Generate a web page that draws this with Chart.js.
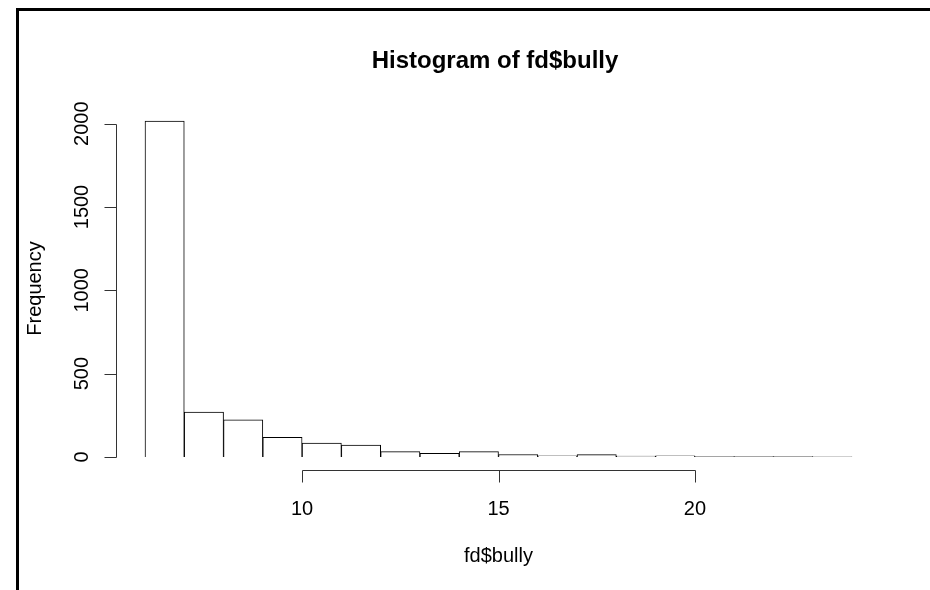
<!DOCTYPE html>
<html>
<head>
<meta charset="utf-8">
<script src="https://cdn.jsdelivr.net/npm/chart.js@4/dist/chart.umd.min.js"></script>
<style>
  body { margin: 0; background: #fff; }
  #box { position: relative; width: 930px; height: 590px; }
  #moldura { position: absolute; left: 16px; top: 8px; right: 0; bottom: 0; border-left: 3px solid #000; border-top: 3px solid #000; pointer-events: none; }
</style>
</head>
<body>
<div id="box">
  <canvas id="grafico"></canvas>
  <div id="moldura"></div>
</div>
<script>
// dados do histograma (limites das classes e contagens)
var breaks = [6, 7, 8, 9, 10, 11, 12, 13, 14, 15, 16, 17, 18, 19, 20, 21, 22, 23, 24];
var counts = [2015, 269, 223, 118, 84, 72, 32, 22, 32, 15, 7, 14, 6, 7, 3, 2, 2, 1];
var xTicks = [10, 15, 20];
var yTicks = [0, 500, 1000, 1500, 2000];
var titulo = 'Histogram of fd$bully';
var xLabel = 'fd$bully';
var yLabel = 'Frequency';

var pontos = [];
for (var i = 0; i < counts.length; i++) {
    pontos.push({ x: (breaks[i] + breaks[i + 1]) / 2, y: counts[i] });
}

var fonte = '"Liberation Sans", Arial, Helvetica, sans-serif';

// desenha eixos no estilo do R
var eixosR = {
    id: 'eixosR',
    afterDraw: function (chart) {
        var ctx = chart.ctx;
        var sx = chart.scales.x;
        var sy = chart.scales.y;
        ctx.save();
        ctx.strokeStyle = '#333';
        ctx.lineWidth = 1;
        ctx.fillStyle = '#000';

        // eixo x
        var yEixo = 470.5;
        var x0 = Math.round(sx.getPixelForValue(xTicks[0])) + 0.5;
        var x1 = Math.round(sx.getPixelForValue(xTicks[xTicks.length - 1])) + 0.5;
        ctx.beginPath();
        ctx.moveTo(x0, yEixo);
        ctx.lineTo(x1, yEixo);
        xTicks.forEach(function (t) {
            var px = Math.round(sx.getPixelForValue(t)) + 0.5;
            ctx.moveTo(px, yEixo);
            ctx.lineTo(px, yEixo + 12);
        });
        ctx.stroke();
        ctx.font = '20px ' + fonte;
        ctx.textAlign = 'center';
        ctx.textBaseline = 'alphabetic';
        xTicks.forEach(function (t) {
            ctx.fillText(String(t), sx.getPixelForValue(t), 515);
        });

        // eixo y
        var xEixo = 116.5;
        var ya = Math.round(sy.getPixelForValue(yTicks[0])) + 0.5;
        var yb = Math.round(sy.getPixelForValue(yTicks[yTicks.length - 1])) + 0.5;
        ctx.beginPath();
        ctx.moveTo(xEixo, ya);
        ctx.lineTo(xEixo, yb);
        yTicks.forEach(function (t) {
            var py = Math.round(sy.getPixelForValue(t)) + 0.5;
            ctx.moveTo(xEixo, py);
            ctx.lineTo(xEixo - 12, py);
        });
        ctx.stroke();
        yTicks.forEach(function (t) {
            ctx.save();
            ctx.translate(88, sy.getPixelForValue(t));
            ctx.rotate(-Math.PI / 2);
            ctx.fillText(String(t), 0, 0);
            ctx.restore();
        });

        // titulos
        ctx.font = 'bold 24px ' + fonte;
        ctx.fillText(titulo, 495, 68);
        ctx.font = '20px ' + fonte;
        ctx.fillText(xLabel, (chart.chartArea.left + chart.chartArea.right) / 2, 562);
        ctx.save();
        ctx.translate(41, (chart.chartArea.top + chart.chartArea.bottom) / 2);
        ctx.rotate(-Math.PI / 2);
        ctx.fillText(yLabel, 0, 0);
        ctx.restore();

        ctx.restore();
    }
};

var ctx = document.getElementById('grafico');
var grafico = new Chart(ctx, {
    type: 'bar',
    data: {
        datasets: [{
            data: pontos,
            backgroundColor: '#fff',
            borderColor: '#000',
            borderWidth: 1,
            barPercentage: 1,
            categoryPercentage: 1,
            clip: 5
        }]
    },
    options: {
        responsive: true,
        maintainAspectRatio: false,
        animation: false,
        layout: { padding: { left: 145, right: 78, top: 120, bottom: 133 } },
        plugins: { legend: { display: false }, tooltip: { enabled: false }, title: { display: false } },
        scales: {
            x: { type: 'linear', offset: false, min: breaks[0], max: breaks[breaks.length - 1], display: false },
            y: { min: 0, max: 2022, display: false }
        }
    },
    plugins: [eixosR]
});
</script>
</body>
</html>
